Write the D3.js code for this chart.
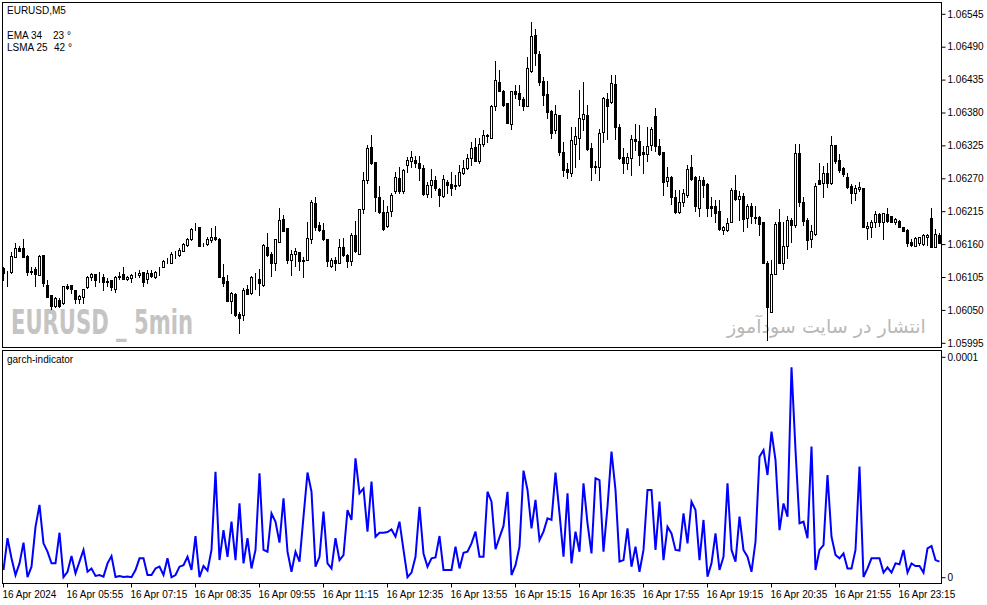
<!DOCTYPE html>
<html><head><meta charset="utf-8">
<script src="https://cdn.jsdelivr.net/npm/d3@7/dist/d3.min.js"></script>
<style>body{margin:0;background:#fff}svg{display:block}</style></head>
<body><svg id="c" width="987" height="605"></svg>
<script>
// ---- DATA (EURUSD M5, 16 Apr 2024, bars from 04:35) ----
const open = [1.06121,1.06115,1.06115,1.06140,1.06155,1.06154,1.06141,1.06115,1.06119,1.06109,
1.06143,1.06093,1.06076,1.06057,1.06067,1.06062,1.06091,1.06092,1.06084,1.06069,
1.06073,1.06089,1.06105,1.06111,1.06106,1.06106,1.06099,1.06100,1.06086,1.06106,
1.06111,1.06102,1.06104,1.06109,1.06109,1.06115,1.06102,1.06112,1.06105,1.06120,
1.06123,1.06135,1.06130,1.06145,1.06143,1.06150,1.06159,1.06169,1.06187,1.06189,
1.06158,1.06161,1.06168,1.06172,1.06170,1.06106,1.06099,1.06066,1.06078,1.06044,
1.06042,1.06086,1.06079,1.06104,1.06103,1.06092,1.06156,1.06145,1.06129,1.06165,
1.06202,1.06187,1.06135,1.06144,1.06147,1.06132,1.06135,1.06170,1.06230,1.06192,
1.06184,1.06169,1.06125,1.06135,1.06130,1.06156,1.06143,1.06133,1.06176,1.06145,
1.06219,1.06268,1.06323,1.06298,1.06240,1.06215,1.06191,1.06217,1.06249,1.06271,
1.06250,1.06293,1.06300,1.06302,1.06296,1.06288,1.06244,1.06259,1.06268,1.06253,
1.06242,1.06265,1.06261,1.06260,1.06259,1.06279,1.06288,1.06304,1.06323,1.06300,
1.06328,1.06343,1.06339,1.06391,1.06432,1.06417,1.06396,1.06362,1.06417,1.06414,
1.06403,1.06392,1.06451,1.06510,1.06479,1.06434,1.06412,1.06383,1.06351,1.06377,
1.06314,1.06286,1.06280,1.06328,1.06339,1.06370,1.06377,1.06321,1.06292,1.06289,
1.06348,1.06403,1.06399,1.06428,1.06356,1.06307,1.06296,1.06305,1.06336,1.06334,
1.06314,1.06311,1.06326,1.06375,1.06324,1.06314,1.06267,1.06273,1.06240,1.06214,
1.06232,1.06243,1.06289,1.06273,1.06221,1.06268,1.06261,1.06224,1.06225,1.06217,
1.06185,1.06185,1.06198,1.06252,1.06237,1.06241,1.06204,1.06224,1.06206,1.06206,
1.06198,1.06130,1.06048,1.06111,1.06197,1.06130,1.06157,1.06201,1.06193,1.06313,
1.06232,1.06201,1.06169,1.06178,1.06268,1.06263,1.06280,1.06263,1.06326,1.06302,
1.06288,1.06273,1.06258,1.06247,1.06253,1.06254,1.06187,1.06189,1.06198,1.06211,
1.06198,1.06211,1.06207,1.06197,1.06200,1.06189,1.06184,1.06165,1.06158,1.06162,
1.06161,1.06173,1.06204,1.06156,1.06176];
const high = [1.06123,1.06116,1.06147,1.06163,1.06157,1.06170,1.06143,1.06122,1.06123,1.06143,
1.06143,1.06101,1.06076,1.06073,1.06070,1.06091,1.06094,1.06092,1.06084,1.06076,
1.06086,1.06107,1.06113,1.06111,1.06115,1.06111,1.06104,1.06101,1.06107,1.06115,
1.06123,1.06107,1.06111,1.06115,1.06117,1.06115,1.06117,1.06118,1.06116,1.06123,
1.06134,1.06137,1.06147,1.06150,1.06154,1.06162,1.06171,1.06188,1.06196,1.06190,
1.06163,1.06173,1.06187,1.06191,1.06171,1.06128,1.06109,1.06080,1.06079,1.06048,
1.06087,1.06093,1.06107,1.06112,1.06120,1.06161,1.06180,1.06147,1.06170,1.06221,
1.06210,1.06187,1.06151,1.06154,1.06148,1.06140,1.06198,1.06235,1.06240,1.06198,
1.06196,1.06170,1.06137,1.06140,1.06170,1.06171,1.06144,1.06180,1.06200,1.06219,
1.06282,1.06326,1.06343,1.06298,1.06258,1.06235,1.06225,1.06246,1.06281,1.06290,
1.06286,1.06306,1.06317,1.06308,1.06308,1.06293,1.06265,1.06286,1.06275,1.06254,
1.06277,1.06268,1.06282,1.06276,1.06293,1.06302,1.06312,1.06332,1.06339,1.06339,
1.06352,1.06345,1.06393,1.06467,1.06452,1.06419,1.06396,1.06417,1.06427,1.06427,
1.06406,1.06474,1.06532,1.06520,1.06483,1.06440,1.06434,1.06385,1.06393,1.06377,
1.06332,1.06296,1.06357,1.06357,1.06419,1.06432,1.06393,1.06330,1.06300,1.06354,
1.06407,1.06413,1.06444,1.06444,1.06362,1.06321,1.06313,1.06343,1.06362,1.06360,
1.06324,1.06356,1.06356,1.06388,1.06336,1.06315,1.06290,1.06274,1.06251,1.06251,
1.06253,1.06293,1.06310,1.06274,1.06274,1.06273,1.06263,1.06239,1.06235,1.06234,
1.06191,1.06204,1.06254,1.06276,1.06249,1.06247,1.06228,1.06230,1.06224,1.06208,
1.06198,1.06132,1.06134,1.06198,1.06219,1.06198,1.06207,1.06204,1.06328,1.06328,
1.06239,1.06204,1.06193,1.06263,1.06297,1.06292,1.06296,1.06342,1.06326,1.06312,
1.06290,1.06279,1.06262,1.06260,1.06264,1.06254,1.06198,1.06201,1.06217,1.06213,
1.06212,1.06222,1.06208,1.06204,1.06201,1.06190,1.06186,1.06169,1.06172,1.06173,
1.06177,1.06178,1.06221,1.06186,1.06180];
const low = [1.06101,1.06091,1.06113,1.06140,1.06150,1.06139,1.06109,1.06111,1.06091,1.06109,
1.06091,1.06073,1.06053,1.06056,1.06056,1.06061,1.06086,1.06079,1.06063,1.06062,
1.06063,1.06087,1.06101,1.06091,1.06098,1.06084,1.06090,1.06084,1.06081,1.06102,
1.06102,1.06101,1.06098,1.06106,1.06106,1.06091,1.06095,1.06106,1.06104,1.06109,
1.06123,1.06129,1.06129,1.06137,1.06141,1.06149,1.06158,1.06168,1.06185,1.06157,
1.06157,1.06159,1.06165,1.06168,1.06105,1.06090,1.06065,1.06045,1.06041,1.06013,
1.06034,1.06078,1.06078,1.06085,1.06076,1.06091,1.06141,1.06107,1.06117,1.06165,
1.06183,1.06129,1.06109,1.06124,1.06117,1.06106,1.06134,1.06163,1.06184,1.06183,
1.06168,1.06124,1.06123,1.06117,1.06129,1.06141,1.06122,1.06126,1.06148,1.06144,
1.06212,1.06263,1.06295,1.06217,1.06213,1.06185,1.06190,1.06208,1.06247,1.06247,
1.06247,1.06282,1.06290,1.06290,1.06268,1.06243,1.06239,1.06240,1.06251,1.06224,
1.06239,1.06246,1.06243,1.06253,1.06258,1.06278,1.06286,1.06293,1.06299,1.06297,
1.06324,1.06332,1.06339,1.06385,1.06417,1.06391,1.06363,1.06354,1.06405,1.06393,
1.06385,1.06392,1.06449,1.06460,1.06427,1.06393,1.06371,1.06338,1.06347,1.06310,
1.06275,1.06272,1.06275,1.06290,1.06303,1.06352,1.06318,1.06268,1.06280,1.06268,
1.06331,1.06336,1.06397,1.06336,1.06303,1.06280,1.06286,1.06276,1.06318,1.06293,
1.06279,1.06299,1.06318,1.06317,1.06310,1.06243,1.06258,1.06228,1.06212,1.06212,
1.06224,1.06240,1.06268,1.06217,1.06207,1.06240,1.06207,1.06207,1.06198,1.06185,
1.06178,1.06182,1.06197,1.06235,1.06201,1.06183,1.06190,1.06196,1.06196,1.06176,
1.06129,1.06001,1.06048,1.06111,1.06129,1.06119,1.06137,1.06165,1.06190,1.06224,
1.06193,1.06152,1.06156,1.06176,1.06261,1.06240,1.06257,1.06261,1.06296,1.06282,
1.06274,1.06254,1.06230,1.06235,1.06250,1.06189,1.06169,1.06172,1.06190,1.06191,
1.06169,1.06197,1.06197,1.06195,1.06189,1.06182,1.06157,1.06158,1.06157,1.06159,
1.06159,1.06159,1.06156,1.06156,1.06162];
const close = [1.06113,1.06114,1.06141,1.06154,1.06150,1.06139,1.06115,1.06116,1.06111,1.06141,
1.06096,1.06073,1.06057,1.06070,1.06057,1.06090,1.06088,1.06085,1.06069,1.06074,
1.06085,1.06106,1.06111,1.06100,1.06106,1.06098,1.06098,1.06089,1.06106,1.06107,
1.06102,1.06106,1.06109,1.06109,1.06113,1.06098,1.06113,1.06108,1.06115,1.06120,
1.06133,1.06135,1.06145,1.06145,1.06151,1.06161,1.06170,1.06186,1.06187,1.06158,
1.06158,1.06170,1.06173,1.06170,1.06106,1.06095,1.06066,1.06079,1.06042,1.06038,
1.06084,1.06078,1.06106,1.06104,1.06096,1.06159,1.06143,1.06129,1.06169,1.06201,
1.06183,1.06135,1.06145,1.06150,1.06132,1.06135,1.06171,1.06232,1.06189,1.06184,
1.06170,1.06132,1.06135,1.06130,1.06156,1.06143,1.06133,1.06176,1.06150,1.06219,
1.06268,1.06321,1.06297,1.06240,1.06215,1.06186,1.06215,1.06243,1.06273,1.06249,
1.06285,1.06301,1.06306,1.06296,1.06288,1.06244,1.06259,1.06268,1.06254,1.06243,
1.06269,1.06260,1.06254,1.06258,1.06281,1.06288,1.06304,1.06321,1.06300,1.06329,
1.06343,1.06342,1.06391,1.06436,1.06417,1.06393,1.06364,1.06416,1.06412,1.06404,
1.06392,1.06455,1.06509,1.06481,1.06432,1.06410,1.06382,1.06346,1.06378,1.06315,
1.06285,1.06282,1.06335,1.06342,1.06371,1.06378,1.06320,1.06290,1.06289,1.06346,
1.06405,1.06392,1.06430,1.06356,1.06304,1.06296,1.06307,1.06336,1.06334,1.06310,
1.06311,1.06325,1.06354,1.06325,1.06312,1.06265,1.06273,1.06240,1.06214,1.06232,
1.06247,1.06286,1.06269,1.06225,1.06268,1.06259,1.06222,1.06222,1.06212,1.06186,
1.06189,1.06196,1.06252,1.06237,1.06242,1.06202,1.06224,1.06207,1.06204,1.06195,
1.06129,1.06056,1.06111,1.06195,1.06130,1.06157,1.06201,1.06192,1.06313,1.06232,
1.06200,1.06168,1.06182,1.06258,1.06261,1.06280,1.06263,1.06326,1.06299,1.06285,
1.06278,1.06257,1.06247,1.06254,1.06256,1.06189,1.06191,1.06198,1.06211,1.06198,
1.06212,1.06200,1.06198,1.06202,1.06190,1.06183,1.06163,1.06159,1.06171,1.06172,
1.06176,1.06176,1.06156,1.06178,1.06163];
// garch-indicator values, in units of 1e-6
const garch = [3.5,17.9,8.8,1.2,6.5,15.9,0.3,5.0,23.1,33.0,
15.6,11.8,6.5,6.5,20.4,0.3,2.7,9.8,2.0,7.3,
12.6,2.7,4.2,0.8,1.2,0.5,6.5,9.8,0.3,0.8,
0.3,0.5,0.2,3.5,8.8,8.8,1.2,1.2,4.2,5.0,
1.2,8.8,0.2,1.2,5.0,5.7,9.5,3.5,18.9,0.3,
5.3,3.2,12.6,48.1,8.0,21.6,9.5,25.4,8.0,33.7,
6.5,17.9,4.2,12.6,47.4,12.6,11.8,29.2,25.4,15.9,
36.0,11.8,2.7,11.8,7.3,27.7,47.7,39.0,5.0,9.5,
30.0,6.5,4.2,17.9,8.0,10.3,30.7,26.2,54.2,38.3,
40.5,20.9,43.6,18.6,20.4,20.4,20.7,21.9,18.6,25.4,
12.6,0.2,2.3,9.5,32.2,11.0,5.0,8.8,9.2,18.9,
3.5,3.5,3.5,14.1,4.2,11.3,11.8,15.6,20.9,9.5,
9.5,39.0,34.5,12.9,18.3,23.5,39.0,1.2,5.7,14.1,
48.6,39.8,22.4,35.3,17.1,20.9,26.9,26.2,47.7,29.2,
9.5,38.3,6.5,20.9,11.8,42.8,24.7,11.0,45.1,44.3,
11.8,32.2,57.2,39.8,7.3,8.0,22.4,5.0,14.1,2.7,
12.6,39.8,39.8,12.6,34.5,8.0,23.1,20.1,12.6,12.3,
29.2,15.6,34.5,30.7,8.0,26.2,0.5,6.5,20.1,3.5,
9.5,42.8,12.6,7.3,27.7,12.6,9.5,2.7,16.3,54.9,
57.9,46.6,66.3,53.4,21.6,33.7,27.7,95.5,57.9,24.7,
25.4,17.9,59.5,3.5,12.6,14.8,46.6,18.6,10.3,8.8,
11.0,4.2,4.2,12.6,50.4,0.3,4.2,8.8,8.8,8.8,
2.3,4.7,2.3,6.5,6.1,12.6,2.3,6.5,5.3,5.3,
2.3,13.3,14.4,8.0,7.3];
const priceTicks = [1.06545,1.06490,1.06435,1.06380,1.06325,1.06270,1.06215,1.06160,1.06105,1.06050,1.05995];
const garchTicks = [0, 100];
const garchTickLabels = ["0", "0.0001"];
const timeTickIdx = [0,16,32,48,64,80,96,112,128,144,160,176,192,208,224];
const timeTickLabels = ["16 Apr 2024","16 Apr 05:55","16 Apr 07:15","16 Apr 08:35","16 Apr 09:55","16 Apr 11:15","16 Apr 12:35","16 Apr 13:55","16 Apr 15:15","16 Apr 16:35","16 Apr 17:55","16 Apr 19:15","16 Apr 20:35","16 Apr 21:55","16 Apr 23:15"];

// ---- DRAW ----
const FONT = "'Liberation Sans', Arial, sans-serif";
const svg = d3.select("#c");
const n = open.length;
const x = d3.scaleLinear().domain([0, n - 1]).range([3.5, 3.5 + 4 * (n - 1)]);
const yP = d3.scaleLinear().domain([1.05995, 1.06545]).range([343.3, 14.3]);
const yG = d3.scaleLinear().domain([0, 100]).range([577.7, 357.3]);

const defs = svg.append("defs");
defs.append("clipPath").attr("id", "cp1").append("rect").attr("x", 3).attr("y", 3).attr("width", 938).attr("height", 344);
defs.append("clipPath").attr("id", "cp2").append("rect").attr("x", 3).attr("y", 351).attr("width", 938).attr("height", 232);

// watermarks
function fitText(g, str, x0, yb, w, size, family, weight, color) {
  const t = g.append("text").attr("x", 0).attr("y", 0).text(str)
    .attr("font-family", family).attr("font-size", size).attr("font-weight", weight).attr("fill", color);
  const cw = t.node().getComputedTextLength();
  t.attr("transform", `translate(${x0},${yb}) scale(${w / cw},1)`);
}
const wm = svg.append("g");
fitText(wm, "EURUSD _ 5min", 11, 334, 182, 33, "'Liberation Sans Narrow','DejaVu Sans Condensed','Liberation Sans',sans-serif", "bold", "#c4c4c4");
fitText(wm, "انتشار در سایت سودآموز", 727, 333, 199, 19, "'DejaVu Sans',sans-serif", "normal", "#b8b8b8");

// candles
const pc = svg.append("g").attr("clip-path", "url(#cp1)");
const idx = d3.range(n);
pc.selectAll("line.w").data(idx).join("line")
  .attr("x1", i => x(i)).attr("x2", i => x(i))
  .attr("y1", i => Math.round(yP(high[i]))).attr("y2", i => Math.round(yP(low[i])) + 1)
  .attr("stroke", "#000").attr("stroke-width", 1);
pc.selectAll("rect.b").data(idx).join("rect")
  .attr("x", i => x(i) - 1)
  .attr("width", 2)
  .attr("y", i => Math.round(yP(Math.max(open[i], close[i]))) + 0.5)
  .attr("height", i => Math.round(yP(Math.min(open[i], close[i]))) - Math.round(yP(Math.max(open[i], close[i]))))
  .attr("fill", i => close[i] >= open[i] ? "#fff" : "#000")
  .attr("stroke", "#000").attr("stroke-width", 1);

// garch line
svg.append("g").attr("clip-path", "url(#cp2)").append("path")
  .datum(garch)
  .attr("d", d3.line().x((d, i) => x(i)).y(d => yG(d)))
  .attr("fill", "none").attr("stroke", "#0000ff").attr("stroke-width", 2).attr("stroke-linejoin", "miter");

// frames
svg.append("rect").attr("x", 2.5).attr("y", 2.5).attr("width", 939).attr("height", 345)
  .attr("fill", "none").attr("stroke", "#000");
svg.append("rect").attr("x", 2.5).attr("y", 350.5).attr("width", 939).attr("height", 233)
  .attr("fill", "none").attr("stroke", "#000");

// axes
function styleAxis(g) {
  g.select(".domain").remove();
  g.selectAll("text").attr("font-family", FONT).attr("font-size", 10).attr("fill", "#000");
  g.selectAll("line").attr("stroke", "#000");
}
svg.append("g").attr("transform", "translate(941.5,0)")
  .call(d3.axisRight(yP).tickValues(priceTicks).tickFormat(d3.format(".5f")).tickSize(4).tickPadding(2).offset(0))
  .call(styleAxis);
svg.append("g").attr("transform", "translate(941.5,0)")
  .call(d3.axisRight(yG).tickValues(garchTicks).tickFormat((d, i) => garchTickLabels[i]).tickSize(4).tickPadding(2).offset(0))
  .call(styleAxis);
const ax = svg.append("g").attr("transform", "translate(0,583.5)")
  .call(d3.axisBottom(x).tickValues(timeTickIdx).tickFormat((d, i) => timeTickLabels[i]).tickSize(4).tickPadding(3).offset(0))
  .call(styleAxis);
ax.selectAll("text").attr("text-anchor", "start").attr("x", -1);

// labels
const lab = svg.append("g").attr("font-family", FONT).attr("font-size", 10).attr("fill", "#000");
lab.append("text").attr("x", 7).attr("y", 14).text("EURUSD,M5");
lab.append("text").attr("x", 7).attr("y", 39).text("EMA 34");
lab.append("text").attr("x", 53).attr("y", 39).text("23 °");
lab.append("text").attr("x", 7).attr("y", 51).text("LSMA 25");
lab.append("text").attr("x", 54).attr("y", 51).text("42 °");
lab.append("text").attr("x", 7).attr("y", 363).text("garch-indicator");
</script></body></html>
